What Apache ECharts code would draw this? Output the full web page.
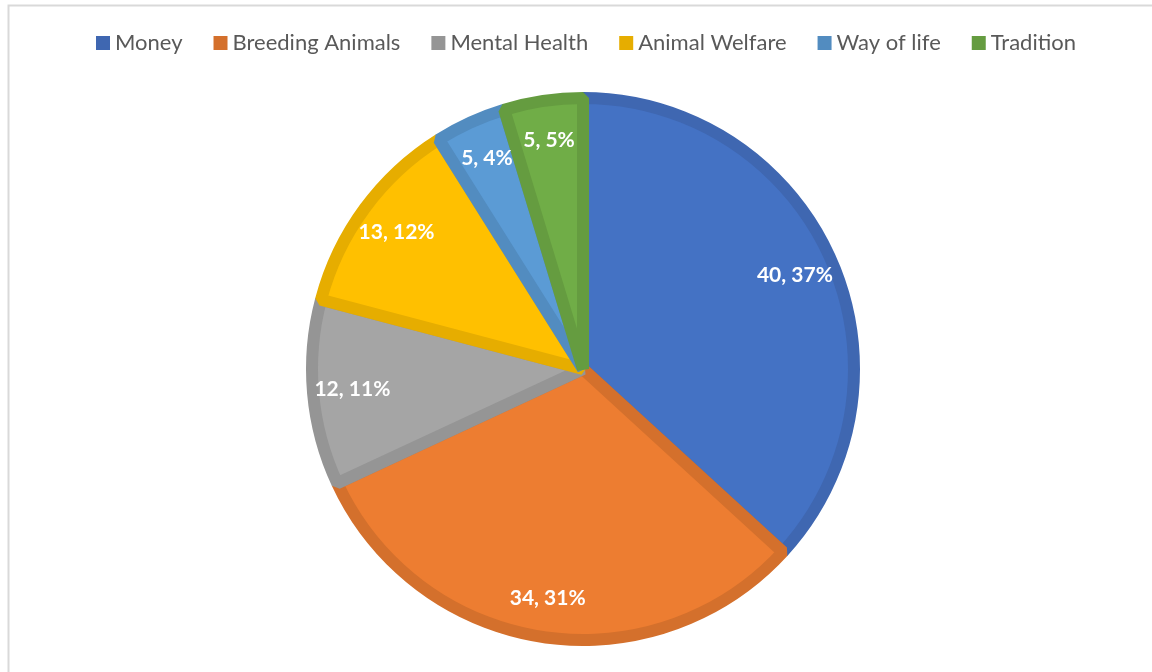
<!DOCTYPE html>
<html>
<head>
<meta charset="utf-8">
<style>
html, body { margin: 0; padding: 0; background: #fff; }
#main { width: 1152px; height: 672px; }
</style>
<script src="https://cdn.jsdelivr.net/npm/echarts@6/dist/echarts.min.js"></script>
</head>
<body>
<div id="main"></div>
<script>
// slice names, clockwise from 12 o'clock
var categories = ['Money', 'Breeding Animals', 'Mental Health', 'Animal Welfare', 'Way of life', 'Tradition'];
var values = [40, 34, 12, 13, 4.6, 5.1];
var fillColors = ['#4472C4', '#ED7D31', '#A5A5A5', '#FFC000', '#5B9BD5', '#70AD47'];
var edgeColors = ['#3F67B1', '#D4702C', '#959595', '#E6AD00', '#528CC0', '#659C40'];

var chart = echarts.init(document.getElementById('main'));

var cx = 583, cy = 369, R = 277, edge = 12;

var sliceData = categories.map(function (name, i) {
    return {
        name: name,
        value: values[i],
        itemStyle: { color: fillColors[i], borderColor: edgeColors[i] }
    };
});
var labelData = categories.map(function (name, i) {
    return { name: name, value: values[i] };
});

chart.setOption({
    animation: false,
    graphic: [{
        type: 'rect',
        left: 6, top: 3,
        shape: { width: 1200, height: 700 },
        style: { fill: 'none', stroke: '#d9d9d9', lineWidth: 2 },
        silent: true
    }],
    legend: {
        left: 91,
        top: 27,
        itemWidth: 14,
        itemHeight: 14,
        itemGap: 31,
        icon: 'rect',
        textStyle: { fontFamily: 'Lato', fontSize: 22, color: '#595959' },
        data: categories.map(function (name, i) {
            return { name: name, itemStyle: { color: edgeColors[i], borderWidth: 0 } };
        })
    },
    series: [{
        type: 'pie',
        center: [cx, cy],
        radius: [0, R - edge / 2],
        startAngle: 90,
        clockwise: true,
        itemStyle: { borderWidth: edge, borderJoin: 'bevel' },
        label: { show: false },
        labelLine: { show: false },
        emphasis: { disabled: true },
        data: sliceData
    }, {
        // transparent ring that only carries the labels
        type: 'pie',
        center: [cx, cy],
        radius: [180, R],
        startAngle: 90,
        clockwise: true,
        silent: true,
        z: 3,
        itemStyle: { color: 'rgba(0,0,0,0)' },
        label: {
            show: true,
            position: 'inside',
            color: '#fff',
            fontFamily: 'Lato',
            fontWeight: 'bold',
            fontSize: 21,
            formatter: function (p) {
                return Math.round(p.value) + ', ' + Math.round(p.percent) + '%';
            }
        },
        labelLine: { show: false },
        emphasis: { disabled: true },
        data: labelData
    }]
});
</script>
</body>
</html>
